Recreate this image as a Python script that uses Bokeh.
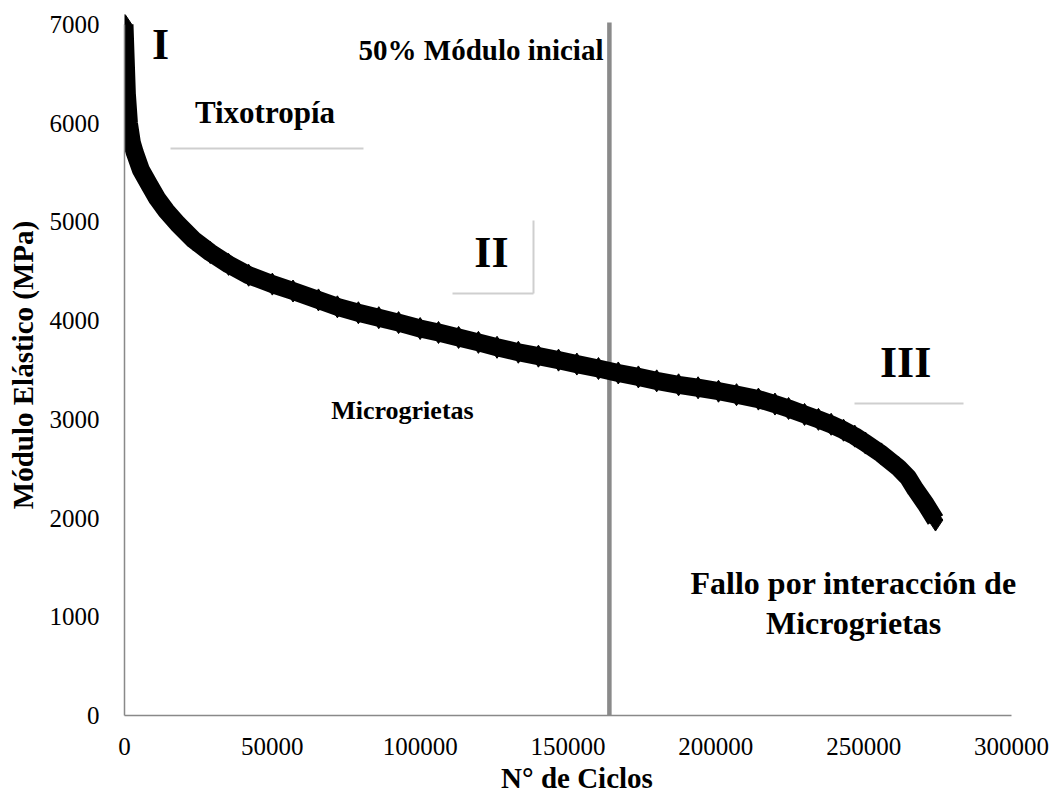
from bokeh.plotting import figure
from bokeh.models import Range1d, FixedTicker, Label
from bokeh.embed import file_html
from bokeh.resources import INLINE

# ---- data ----
cycles = [0, 400, 800, 1500, 2500, 3500, 5500, 8500, 11000, 14200, 18000, 23300,
          29000, 35200, 42000, 50000, 57000, 65600, 72000, 79100, 86000, 92700,
          100000, 106200, 113000, 119700, 126000, 133200, 140000, 146800, 153000,
          160300, 167000, 173800, 180000, 187400, 194000, 200900, 207000, 214400,
          220000, 224600, 230000, 234700, 239000, 243200, 247000, 250600, 256000,
          261800, 265000, 267500, 271000, 274300]
modulus = [7000, 6650, 6300, 6000, 5800, 5700, 5530, 5370, 5240, 5110, 4980, 4820,
           4690, 4570, 4460, 4370, 4300, 4210, 4140, 4080, 4030, 3980,
           3920, 3880, 3830, 3780, 3730, 3680, 3640, 3600, 3560,
           3515, 3470, 3430, 3390, 3350, 3320, 3285, 3250, 3205,
           3155, 3110, 3050, 3000, 2950, 2890, 2830, 2760, 2650,
           2510, 2410, 2290, 2140, 1980]

x_ticks = [0, 50000, 100000, 150000, 200000, 250000, 300000]
y_ticks = [0, 1000, 2000, 3000, 4000, 5000, 6000, 7000]
half_modulus_cycles = [164000]
half_line_bottom = [0]
half_line_top = [7020]

# region annotations (data units)
region_labels = ["I", "II", "III"]
region_x = [12200, 124100, 264200]
region_y = [6800, 4690, 3576]

deco_x0 = [15560, 110940, 138330, 246900]
deco_y0 = [5744, 4275, 5014, 3161]
deco_x1 = [80830, 138330, 138330, 283770]
deco_y1 = [5744, 4275, 4275, 3161]

FONT = "Liberation Serif"
AXIS_GRAY = "#898989"

# frame a bit larger than the axis extent so texts/markers can overflow
FW, FH = 905, 701
x_end = 300000 * FW / 887
y_end = 7000 * FH / 691

p = figure(frame_width=FW, frame_height=FH,
           min_border_left=124, min_border_right=21,
           min_border_top=14, min_border_bottom=78,
           x_range=Range1d(0, x_end), y_range=Range1d(0, y_end),
           output_backend="svg", toolbar_location=None)
p.outline_line_color = None
p.grid.visible = False
p.background_fill_color = "white"
p.border_fill_color = "white"

for ax in (p.xaxis[0], p.yaxis[0]):
    ax.axis_line_color = AXIS_GRAY
    ax.axis_line_width = 1.5
    ax.major_tick_in = 0
    ax.major_tick_out = 0
    ax.minor_tick_in = 0
    ax.minor_tick_out = 0
    ax.major_label_text_font = FONT
    ax.major_label_text_font_size = "25px"
    ax.major_label_text_color = "black"
    ax.axis_label_text_font = FONT
    ax.axis_label_text_font_style = "bold"
    ax.axis_label_text_font_size = "29px"
    ax.axis_label_text_color = "black"

p.xaxis.bounds = (0, 300000)
p.yaxis.bounds = (0, 7000)
p.xaxis.ticker = FixedTicker(ticks=x_ticks)
p.xaxis.major_label_overrides = {t: str(t) for t in x_ticks}
p.yaxis.ticker = FixedTicker(ticks=y_ticks)
p.yaxis.major_label_overrides = {t: str(t) for t in y_ticks}
p.xaxis.axis_label = "N° de Ciclos"
p.yaxis.axis_label = "Módulo Elástico (MPa)"
p.xaxis.major_label_standoff = 22
p.xaxis.axis_label_standoff = 4
p.yaxis.major_label_standoff = 25
p.yaxis.axis_label_standoff = 8

# decorative light-gray lines
p.segment(x0=deco_x0, y0=deco_y0, x1=deco_x1, y1=deco_y1,
          line_color="#cfcfcf", line_width=2)

# 50% initial-modulus line
p.segment(x0=half_modulus_cycles, y0=half_line_bottom,
          x1=half_modulus_cycles, y1=half_line_top,
          line_color="#8a8a8a", line_width=4.5)

# data series: dense diamonds -> thick band
p.line(cycles, modulus, line_color="black", line_width=18, line_join="round")
p.scatter(cycles, modulus, marker="diamond", size=22,
          fill_color="black", line_color="black")

def add_label(x, y, text, size, align="center", baseline="alphabetic"):
    p.add_layout(Label(x=x, y=y, text=text, text_font=FONT,
                       text_font_style="bold", text_font_size=size,
                       text_align=align, text_baseline=baseline,
                       text_color="black"))

for t, x, y in zip(region_labels, region_x, region_y):
    add_label(x, y, t, "44px", baseline="middle")

add_label(47500, 6109, "Tixotropía", "31px")
add_label(162000, 6737, "50% Módulo inicial", "29px", align="right")
add_label(94000, 3090, "Microgrietas", "26px")
add_label(246600, 1347, "Fallo por interacción de", "32px")
add_label(246600, 942, "Microgrietas", "32px")

open("out.html", "w").write(file_html(p, INLINE))
